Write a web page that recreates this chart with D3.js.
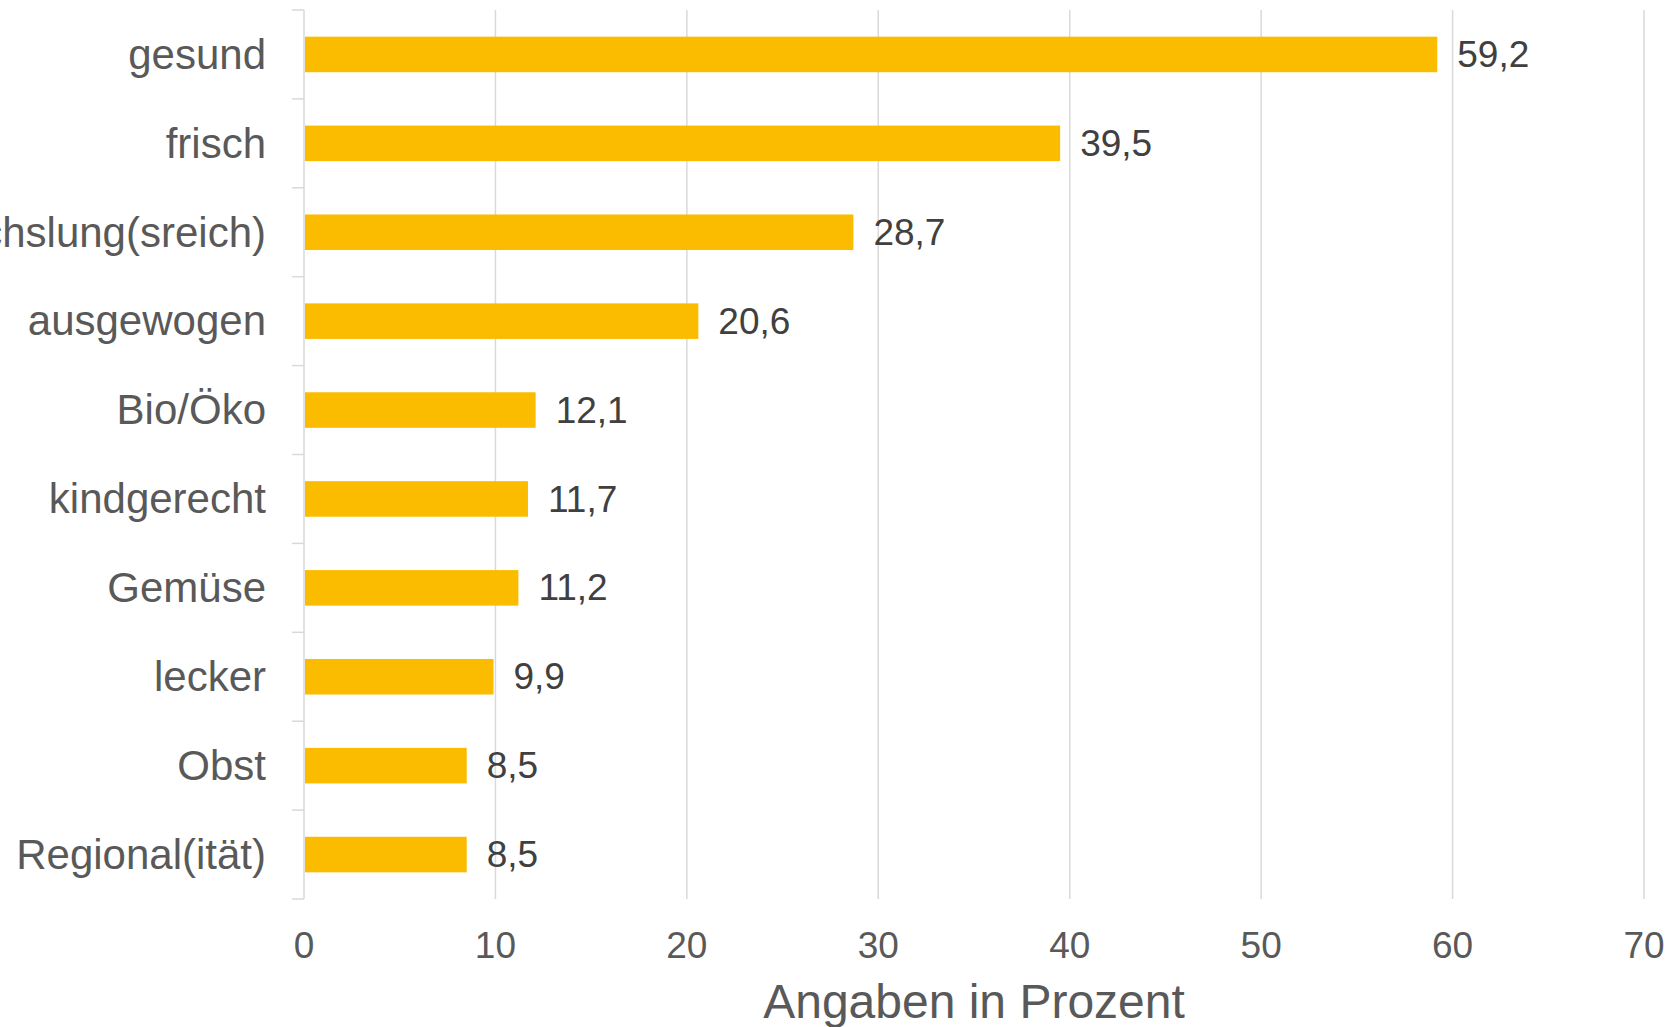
<!DOCTYPE html>
<html>
<head>
<meta charset="utf-8">
<script src="https://cdn.jsdelivr.net/npm/d3@7"></script>
<style>
  html, body { margin: 0; padding: 0; background: #fff; }
  svg { display: block; font-family: "Liberation Sans", Arial, sans-serif; }
</style>
</head>
<body>
<div id="chart"></div>
<script>
// categories top to bottom
const categories = ["gesund", "frisch", "Abwechslung(sreich)", "ausgewogen", "Bio/Öko",
  "kindgerecht", "Gemüse", "lecker", "Obst", "Regional(ität)"];
const values = [59.2, 39.5, 28.7, 20.6, 12.1, 11.7, 11.2, 9.9, 8.5, 8.5];
const xTicks = [0, 10, 20, 30, 40, 50, 60, 70];
const axisTitle = "Angaben in Prozent";

const width = 1672, height = 1027;
const margin = {top: 10, right: 28, bottom: 128, left: 304};

const svg = d3.select("#chart").append("svg")
  .attr("width", width)
  .attr("height", height);

const x = d3.scaleLinear()
  .domain([0, 70])
  .range([margin.left, width - margin.right]);

const y = d3.scaleBand()
  .domain(categories)
  .range([margin.top, height - margin.bottom])
  .paddingInner(0.6)
  .paddingOuter(0.3);

const gridColor = "#d9d9d9";

// vertical gridlines
svg.append("g")
  .selectAll("line")
  .data(xTicks)
  .enter().append("line")
    .attr("x1", d => x(d)).attr("x2", d => x(d))
    .attr("y1", margin.top).attr("y2", height - margin.bottom)
    .attr("stroke", gridColor)
    .attr("stroke-width", 1.5);

// y axis ticks at band boundaries
const step = y.step();
const bounds = d3.range(categories.length + 1).map(i => margin.top + i * step);
svg.append("g")
  .selectAll("line")
  .data(bounds)
  .enter().append("line")
    .attr("x1", margin.left - 12).attr("x2", margin.left)
    .attr("y1", d => d).attr("y2", d => d)
    .attr("stroke", gridColor)
    .attr("stroke-width", 1.5);

// bars
svg.append("g")
  .selectAll("rect")
  .data(values)
  .enter().append("rect")
    .attr("x", x(0) + 1)
    .attr("y", (d, i) => y(categories[i]))
    .attr("width", d => x(d) - x(0) - 1)
    .attr("height", y.bandwidth())
    .attr("fill", "#fbbc00");

// value labels
svg.append("g")
  .selectAll("text")
  .data(values)
  .enter().append("text")
    .attr("x", d => x(d) + 20)
    .attr("y", (d, i) => y(categories[i]) + y.bandwidth() / 2)
    .attr("dy", "0.34em")
    .attr("font-size", 37)
    .attr("fill", "#404040")
    .text(d => d3.format(".1f")(d).replace(".", ","));

// category labels
svg.append("g")
  .selectAll("text")
  .data(categories)
  .enter().append("text")
    .attr("x", margin.left - 38)
    .attr("y", d => y(d) + y.bandwidth() / 2)
    .attr("dy", "0.34em")
    .attr("text-anchor", "end")
    .attr("font-size", 42)
    .attr("fill", "#595959")
    .text(d => d);

// x tick labels
svg.append("g")
  .selectAll("text")
  .data(xTicks)
  .enter().append("text")
    .attr("x", d => x(d))
    .attr("y", height - margin.bottom + 46)
    .attr("dy", "0.36em")
    .attr("text-anchor", "middle")
    .attr("font-size", 37)
    .attr("fill", "#595959")
    .text(d => d);

// axis title
svg.append("text")
  .attr("x", (x(0) + x(70)) / 2)
  .attr("y", height - 9)
  .attr("text-anchor", "middle")
  .attr("font-size", 48)
  .attr("fill", "#595959")
  .text(axisTitle);
</script>
</body>
</html>
